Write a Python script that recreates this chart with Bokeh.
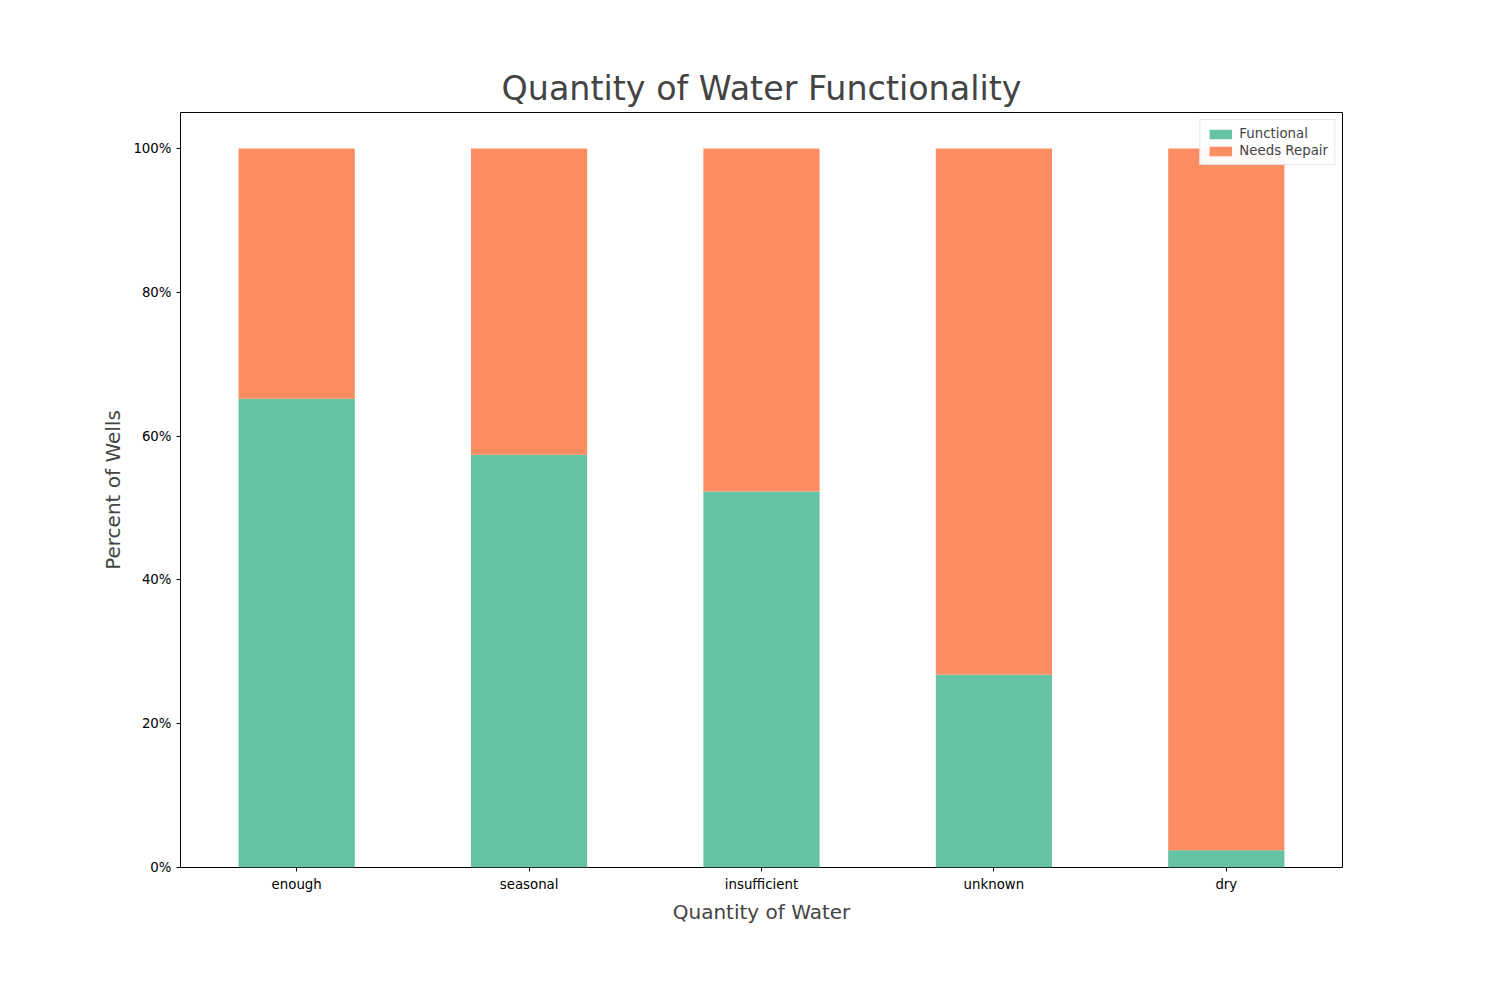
from bokeh.plotting import figure
from bokeh.models import ColumnDataSource, FixedTicker, NumeralTickFormatter, Range1d, Legend, LegendItem
from bokeh.embed import file_html
from bokeh.resources import INLINE

categories = ["enough", "seasonal", "insufficient", "unknown", "dry"]
functional = [0.652, 0.574, 0.523, 0.268, 0.024]
needs_repair = [1 - f for f in functional]

FONT = "DejaVu Sans"

source = ColumnDataSource(data=dict(
    x=list(range(len(categories))),
    functional=functional,
    needs_repair=needs_repair,
))

p = figure(width=1484, height=980, output_backend="svg", toolbar_location=None,
           x_range=Range1d(-0.5, 4.5), y_range=Range1d(0, 1.05),
           min_border_left=180, min_border_right=142, min_border_top=112, min_border_bottom=113)

r = p.vbar_stack(["functional", "needs_repair"], x="x", width=0.5, source=source,
                 color=["#66c2a5", "#fc8d62"], line_color=None)

p.title.text = "Quantity of Water Functionality"
p.title.align = "center"
p.title.text_font = FONT
p.title.text_font_size = "25pt"
p.title.text_font_style = "normal"
p.title.offset = 0

p.xaxis.ticker = FixedTicker(ticks=list(range(len(categories))))
p.xaxis.major_label_overrides = {i: c for i, c in enumerate(categories)}
p.yaxis.ticker = FixedTicker(ticks=[0, 0.2, 0.4, 0.6, 0.8, 1.0])
p.yaxis.formatter = NumeralTickFormatter(format="0%")
p.xaxis.axis_label = "Quantity of Water"
p.yaxis.axis_label = "Percent of Wells"
for ax in (p.xaxis, p.yaxis):
    ax.axis_label_text_font = FONT
    ax.axis_label_text_font_size = "15pt"
    ax.axis_label_text_font_style = "normal"
    ax.major_label_text_font = FONT
    ax.major_label_text_font_size = "10pt"
    ax.major_label_text_color = "black"
    ax.axis_line_color = None
    ax.major_tick_line_color = "black"
    ax.minor_tick_line_color = None
    ax.major_tick_in = 0
    ax.major_tick_out = 4

p.xgrid.grid_line_color = None
p.ygrid.grid_line_color = None
p.outline_line_color = "black"
p.outline_line_alpha = 1

legend = Legend(items=[LegendItem(label="Functional", renderers=[r[0]]),
                       LegendItem(label="Needs Repair", renderers=[r[1]])],
                location="top_right")
legend.label_text_font = FONT
legend.label_text_font_size = "10pt"
legend.border_line_color = "#cccccc"
legend.glyph_width = 28
legend.glyph_height = 12
legend.spacing = 2
legend.padding = 6
legend.margin = 7
p.add_layout(legend)

open("out.html", "w").write(file_html(p, INLINE))
